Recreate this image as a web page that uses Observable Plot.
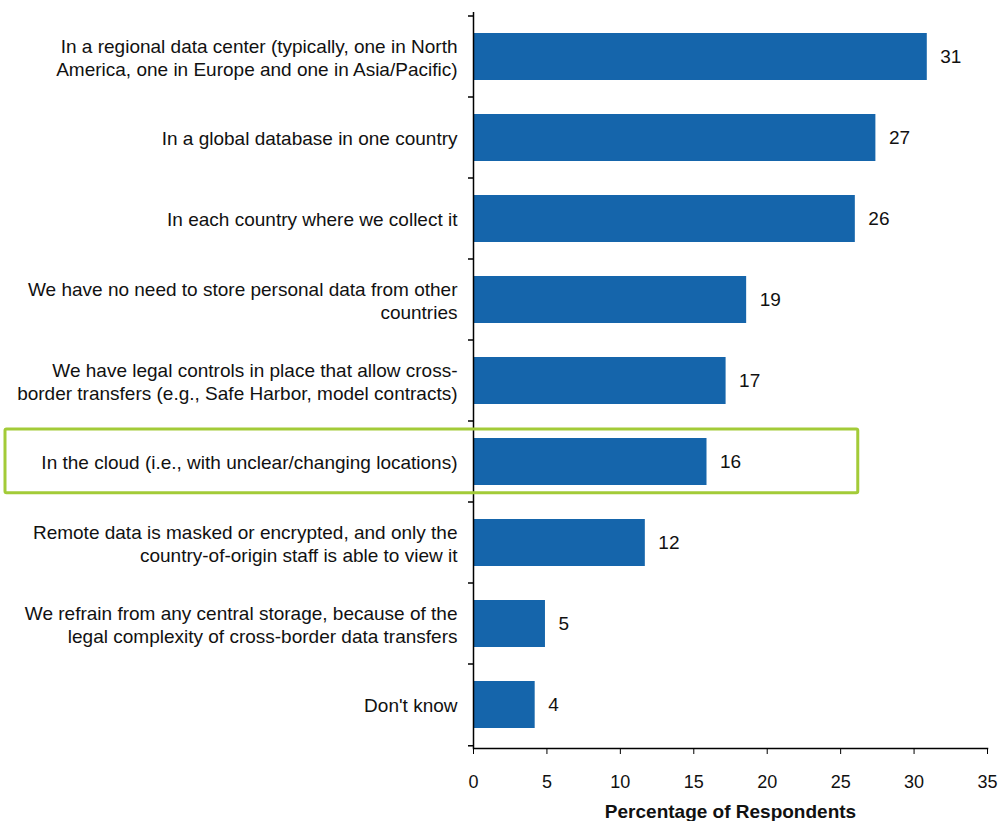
<!DOCTYPE html>
<html>
<head>
<meta charset="utf-8">
<script src="https://cdn.jsdelivr.net/npm/d3@7"></script>
<script src="https://cdn.jsdelivr.net/npm/@observablehq/plot@0.6"></script>
<style>
  html, body { margin: 0; padding: 0; background: #fff; }
  #chart svg { display: block; }
</style>
</head>
<body>
<div id="chart"></div>
<script>
const categories = [
  "In a regional data center (typically, one in North\nAmerica, one in Europe and one in Asia/Pacific)",
  "In a global database in one country",
  "In each country where we collect it",
  "We have no need to store personal data from other\ncountries",
  "We have legal controls in place that allow cross-\nborder transfers (e.g., Safe Harbor, model contracts)",
  "In the cloud (i.e., with unclear/changing locations)",
  "Remote data is masked or encrypted, and only the\ncountry-of-origin staff is able to view it",
  "We refrain from any central storage, because of the\nlegal complexity of cross-border data transfers",
  "Don't know"
];
const values = [30.9, 27.4, 26.0, 18.6, 17.2, 15.9, 11.7, 4.9, 4.2];
const valueLabels = ["31", "27", "26", "19", "17", "16", "12", "5", "4"];
const xTicks = [0, 5, 10, 15, 20, 25, 30, 35];
const highlighted = "In the cloud (i.e., with unclear/changing locations)";
const highlightEnd = 26.2;

const rows = categories.map((c, i) => ({label: c, value: values[i], shown: valueLabels[i]}));

const barColor = "#1565ab";
const textColor = "#111111";

const chart = Plot.plot({
  width: 1002,
  height: 821,
  marginLeft: 473,
  marginRight: 15,
  marginTop: 12,
  marginBottom: 73,
  style: {fontFamily: "'Liberation Sans', Arial, sans-serif", fontSize: "18px", color: textColor, background: "#fff"},
  x: {domain: [0, 35]},
  y: {domain: categories, padding: 0, axis: null},
  marks: [
    Plot.barX(rows, {x: "value", y: "label", fill: barColor, insetTop: 17, insetBottom: 17}),
    Plot.text(rows, {x: "value", y: "label", text: "shown", dx: 13, textAnchor: "start", fill: textColor, fontSize: 19}),
    Plot.text(rows, {x: 0, y: "label", text: "label", dx: -16, textAnchor: "end", lineHeight: 1.23, fill: textColor, fontSize: 19}),
    Plot.axisX({ticks: xTicks, tickSize: 6, tickPadding: 21, label: null, fontSize: 18, stroke: "#000", fill: textColor}),
    Plot.ruleX([0], {stroke: "#000", strokeWidth: 1.5}),
    Plot.frame({anchor: "bottom", stroke: "#000", strokeWidth: 1.5}),
    // band boundary ticks on the category axis
    (index, scales, vals, dims) => {
      const g = d3.create("svg:g").attr("stroke", "#000").attr("stroke-width", 1.5);
      const step = (dims.height - dims.marginTop - dims.marginBottom) / categories.length;
      const x0 = scales.x(0);
      const ys = categories.map(c => scales.y(c)).concat([scales.y(categories[categories.length - 1]) + step]);
      ys.forEach(y => g.append("line").attr("x1", x0 - 5).attr("x2", x0).attr("y1", y).attr("y2", y));
      return g.node();
    },
    // highlight box around the cloud row
    (index, scales, vals, dims) => {
      const step = (dims.height - dims.marginTop - dims.marginBottom) / categories.length;
      const y0 = scales.y(highlighted);
      return d3.create("svg:rect")
        .attr("x", 5)
        .attr("y", y0 + 8)
        .attr("width", scales.x(highlightEnd) - 5)
        .attr("height", step - 18)
        .attr("fill", "none")
        .attr("stroke", "#a3cb38")
        .attr("stroke-width", 3)
        .attr("rx", 1.5)
        .node();
    },
    Plot.text(["Percentage of Respondents"], {frameAnchor: "bottom", dy: 69, fontWeight: "bold", fontSize: 19, fill: textColor})
  ]
});

document.getElementById("chart").appendChild(chart);
</script>
</body>
</html>
